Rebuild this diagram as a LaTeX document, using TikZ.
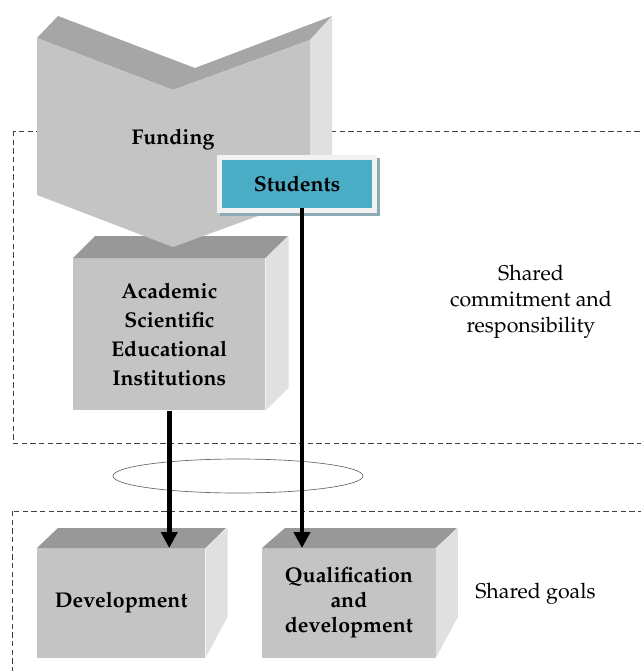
\documentclass[tikz,border=0pt]{standalone}
\usepackage[T1]{fontenc}
\usepackage{mathpazo}
\usetikzlibrary{arrows.meta,shapes.geometric}
\definecolor{frontc}{HTML}{C4C4C4}
\definecolor{topc}{HTML}{A6A6A6}
\definecolor{topd}{HTML}{989898}
\definecolor{sidec}{HTML}{E0E0E0}
\definecolor{tealc}{HTML}{4BACC6}
\definecolor{shadc}{HTML}{8EAAB2}
\definecolor{framec}{HTML}{F2F2F2}
\definecolor{dashc}{HTML}{404040}
\tikzset{
  txt/.style={font=\fontsize{16}{19.5}\selectfont, align=center, inner sep=0pt},
  btxt/.style={txt, font=\fontsize{16}{19.5}\selectfont\bfseries},
  front/.style={fill=frontc, draw=none, btxt, anchor=north west},
  zone/.style={draw=dashc, line width=0.6pt, dash pattern=on 4pt off 2.5pt},
  arr/.style={line width=3.6pt, -{Triangle[length=12pt,width=12pt]}},
}
\begin{document}
\begin{tikzpicture}[x=0.75pt, y=-0.75pt]
\useasboundingbox (0,0) rectangle (641,671);
\clip (0,0) rectangle (641,671);
% dashed zones
\draw[zone] (13,131) rectangle (660,443);
\draw[zone] (12,511) rectangle (660,690);
% ellipse
\node[ellipse, draw=gray!80!black, line width=0.5pt, minimum width=187.5pt, minimum height=25.5pt, inner sep=0pt] (ring) at (238,476) {};
% Academic box
\node[front, minimum width=144pt, minimum height=114pt, font=\fontsize{16}{21.75}\selectfont\bfseries] (academic) at (73,258)
  {Academic\\Scientific\\Educational\\Institutions};
\fill[topd] (academic.north west) -- ++(22,-22) -- ++(193,0) -- (academic.north east) -- cycle;
\fill[sidec] (academic.north east) -- ++(23,-22) -- ++(0,152) -- (academic.south east) -- cycle;
% Funding shape
\fill[topc] (37,38) -- (58,16) -- (195,68) -- (332,16) -- (310,40) -- (173,90) -- cycle;
\fill[sidec] (310,40) -- (332,16) -- (332,175) -- (310,197) -- cycle;
\fill[frontc] (37,38) -- (173,90) -- (310,40) -- (310,197) -- (173,247) -- (37,195) -- cycle;
\node[btxt] (funding) at (173,140) {Funding};
% Students
\fill[shadc] (220,158) rectangle (380,216);
\fill[framec] (217,155) rectangle (377,213);
\node[fill=tealc, minimum width=113pt, minimum height=36pt, btxt] (students) at (297,184) {Students};
% Bottom boxes
\node[front, minimum width=126pt, minimum height=82pt] (dev) at (37,548) {Development};
\fill[topd] (dev.north west) -- ++(21,-20) -- ++(168,0) -- (dev.north east) -- cycle;
\fill[sidec] (dev.north east) -- ++(22,-20) -- ++(0,89) -- (dev.south east) -- cycle;
\node[front, minimum width=130pt, minimum height=82pt, font=\fontsize{16}{18.75}\selectfont\bfseries] (qual) at (262,548) {Qualification\\and\\development};
\fill[topd] (qual.north west) -- ++(23,-20) -- ++(172,0) -- (qual.north east) -- cycle;
\fill[sidec] (qual.north east) -- ++(22,-20) -- ++(0,89) -- (qual.south east) -- cycle;
% labels
\node[txt] (commit) at (531,302) {Shared\\commitment and\\responsibility};
\node[txt, anchor=west] (goals) at (475,594) {Shared goals};
% arrows
\draw[arr] (academic.south) -- (academic.south |- dev.north);
\draw[arr] ([xshift=3.75pt]students.south) -- ([xshift=3.75pt]students.south |- qual.north);
\end{tikzpicture}
\end{document}
